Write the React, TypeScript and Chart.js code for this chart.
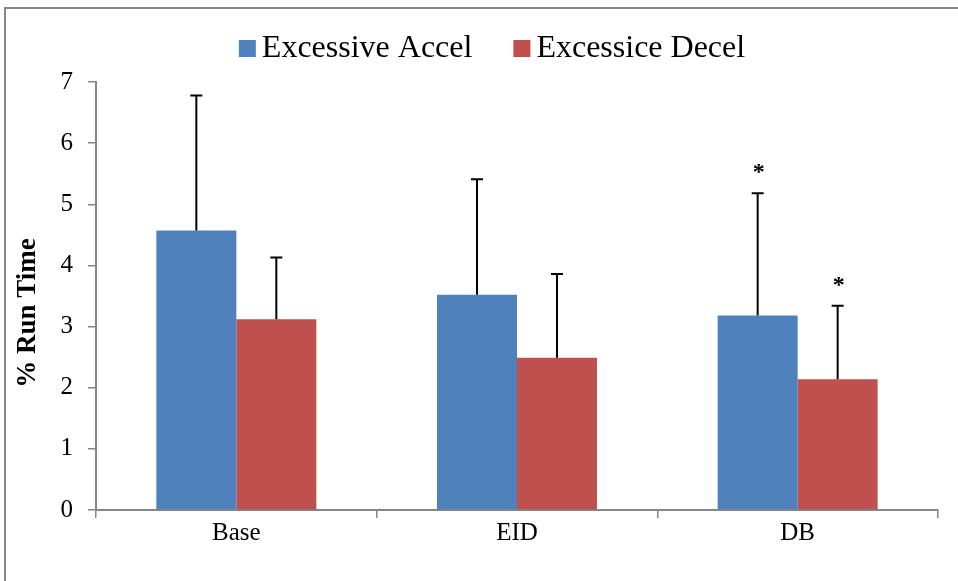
import React, { useEffect, useRef } from 'react';
import { Chart, registerables } from 'chart.js';

Chart.register(...registerables);

const categories = ['Base', 'EID', 'DB'];
const seriesNames = ['Excessive Accel', 'Excessice Decel'];
const seriesColors = ['#4F81BD', '#C0504D'];
const accelValues = [4.57, 3.52, 3.18];
const decelValues = [3.12, 2.49, 2.14];
const accelErrors = [2.21, 1.89, 2.0];
const decelErrors = [1.01, 1.37, 1.2];
const accelMarks = ['', '', '*'];
const decelMarks = ['', '', '*'];
const yMin = 0;
const yMax = 7;
const yStep = 1;
const yTitle = '% Run Time';

const AXIS_GRAY = '#868686';
const SERIF = "'Liberation Serif', 'Times New Roman', serif";

const borderPlugin = {
  id: 'outerBorder',
  beforeDraw(chart: any) {
    const ctx = chart.ctx;
    ctx.save();
    ctx.fillStyle = '#ffffff';
    ctx.fillRect(0, 0, chart.width, chart.height);
    ctx.strokeStyle = '#878787';
    ctx.lineWidth = 2;
    ctx.strokeRect(5, 8, 1000, 1000);
    ctx.restore();
  },
};

const yTitlePlugin = {
  id: 'yTitle',
  afterDraw(chart: any) {
    const ctx = chart.ctx;
    ctx.save();
    ctx.translate(28, 313);
    ctx.rotate(-Math.PI / 2);
    ctx.fillStyle = '#000000';
    ctx.font = `bold 27px ${SERIF}`;
    ctx.textAlign = 'center';
    ctx.textBaseline = 'middle';
    ctx.fillText(yTitle, 0, 0);
    ctx.restore();
  },
};

const errorBarPlugin = {
  id: 'errorBars',
  afterDatasetsDraw(chart: any) {
    const ctx = chart.ctx;
    const yScale = chart.scales.y;
    ctx.save();
    chart.data.datasets.forEach((ds: any, di: number) => {
      const meta = chart.getDatasetMeta(di);
      meta.data.forEach((bar: any, i: number) => {
        const v = ds.data[i];
        const e = ds.errors[i];
        const x = bar.x;
        const y0 = yScale.getPixelForValue(v);
        const y1 = yScale.getPixelForValue(v + e);
        ctx.strokeStyle = '#000000';
        ctx.lineWidth = 2;
        ctx.beginPath();
        ctx.moveTo(x, y0);
        ctx.lineTo(x, y1);
        ctx.moveTo(x - 6, y1);
        ctx.lineTo(x + 6, y1);
        ctx.stroke();
        const mark = ds.marks[i];
        if (mark) {
          ctx.fillStyle = '#000000';
          ctx.font = `bold 24px ${SERIF}`;
          ctx.textAlign = 'center';
          ctx.textBaseline = 'alphabetic';
          ctx.fillText(mark, x + 1, y1 - 14);
        }
      });
    });
    ctx.restore();
  },
};

const legendPlugin = {
  id: 'topLegend',
  afterDraw(chart: any) {
    const ctx = chart.ctx;
    ctx.save();
    ctx.font = `32px ${SERIF}`;
    const box = 17;
    const gap = 6;
    const itemGap = 41;
    const items = chart.data.datasets.map((ds: any) => ({
      label: ds.label,
      color: ds.backgroundColor,
      w: ctx.measureText(ds.label).width,
    }));
    const total =
      items.reduce((s: number, it: any) => s + box + gap + it.w, 0) + itemGap * (items.length - 1);
    let x = 492 - total / 2;
    const cy = 48.5;
    items.forEach((it: any) => {
      ctx.fillStyle = it.color;
      ctx.fillRect(x, cy - box / 2, box, box);
      x += box + gap;
      ctx.fillStyle = '#000000';
      ctx.textAlign = 'left';
      ctx.textBaseline = 'middle';
      ctx.fillText(it.label, x, cy);
      x += it.w + itemGap;
    });
    ctx.restore();
  },
};

export default function App() {
  const canvasRef = useRef<HTMLCanvasElement | null>(null);

  useEffect(() => {
    if (!canvasRef.current) return;
    const chart = new Chart(canvasRef.current, {
      type: 'bar',
      data: {
        labels: categories,
        datasets: [
          {
            label: seriesNames[0],
            data: accelValues,
            backgroundColor: seriesColors[0],
            errors: accelErrors,
            marks: accelMarks,
            categoryPercentage: 0.57,
            barPercentage: 1,
          } as any,
          {
            label: seriesNames[1],
            data: decelValues,
            backgroundColor: seriesColors[1],
            errors: decelErrors,
            marks: decelMarks,
            categoryPercentage: 0.57,
            barPercentage: 1,
          } as any,
        ],
      },
      options: {
        responsive: false,
        animation: false,
        layout: { padding: { left: 0, right: 20, top: 82, bottom: 0 } },
        plugins: {
          legend: { display: false },
          tooltip: { enabled: false },
          title: { display: false },
        },
        scales: {
          x: {
            afterFit(scale: any) {
              scale.height = 71;
            },
            grid: {
              display: true,
              offset: true,
              drawOnChartArea: false,
              drawTicks: true,
              tickLength: 8,
              color: AXIS_GRAY,
              lineWidth: 1.5,
            },
            border: { display: true, color: AXIS_GRAY, width: 2 },
            ticks: {
              color: '#000000',
              font: { family: SERIF, size: 25 },
              padding: 0,
              maxRotation: 0,
            },
          },
          y: {
            min: yMin,
            max: yMax,
            afterFit(scale: any) {
              scale.width = 96;
            },
            grid: {
              display: true,
              drawOnChartArea: false,
              drawTicks: true,
              tickLength: 8,
              color: AXIS_GRAY,
              lineWidth: 1.5,
            },
            border: { display: true, color: AXIS_GRAY, width: 2 },
            ticks: {
              stepSize: yStep,
              color: '#000000',
              font: { family: SERIF, size: 25 },
              padding: 15,
            },
            title: { display: false, text: yTitle },
          },
        },
      } as any,
      plugins: [borderPlugin, errorBarPlugin, legendPlugin, yTitlePlugin],
    });
    return () => chart.destroy();
  }, []);

  return (
    <div style={{ position: 'fixed', left: 0, top: 0, width: 958, height: 581, overflow: 'hidden' }}>
      <canvas ref={canvasRef} width={958} height={581} style={{ display: 'block' }} />
    </div>
  );
}
